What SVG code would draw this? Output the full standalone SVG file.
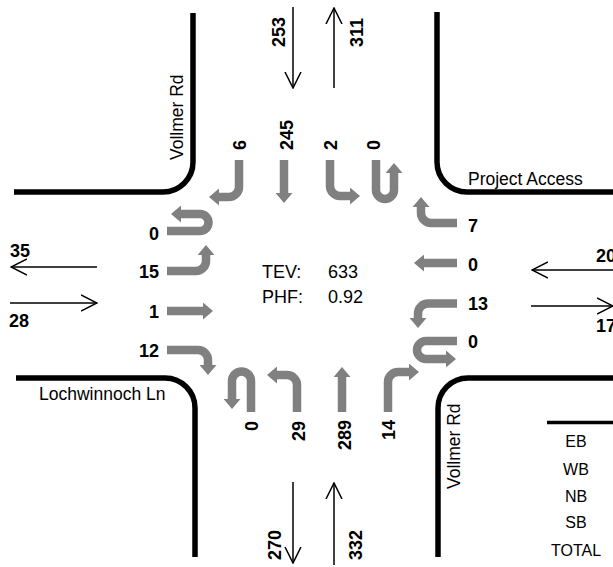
<svg xmlns="http://www.w3.org/2000/svg" width="613" height="567" viewBox="0 0 613 567">
<style>
.curb{fill:none;stroke:#000;stroke-width:5.5}
.mv{fill:none;stroke:#808080;stroke-width:8.5;marker-end:url(#gh)}
.vol{fill:none;stroke:#000;stroke-width:1.5;marker-end:url(#bh)}
text{font-family:"Liberation Sans",Arial,sans-serif;fill:#000}
.n{font-size:18px;font-weight:bold}
.st{font-size:17.5px}
.c{font-size:18px}
.t{font-size:16px;text-anchor:middle}
</style>
<defs>
<marker id="gh" markerUnits="userSpaceOnUse" viewBox="0 0 10 17" refX="0" refY="8.5" markerWidth="10" markerHeight="17" orient="auto"><path d="M0,0 L10,8.5 L0,17 Z" fill="#808080"/></marker>
<marker id="bh" markerUnits="userSpaceOnUse" viewBox="0 0 17 18" refX="16" refY="9" markerWidth="17" markerHeight="18" orient="auto"><path d="M0,1 L16,9 L0,17" fill="none" stroke="#000" stroke-width="1.5"/></marker>
</defs>
<g id="curbs">
<path class="curb" d="M193,13 V162 A30,30 0 0 1 163,192 H14"/>
<path class="curb" d="M437,12 V162 A30,30 0 0 0 467,192 H613"/>
<path class="curb" d="M16,378 H165 A30,30 0 0 1 195,408 V557"/>
<path class="curb" d="M613,378 H468 A30,30 0 0 0 438,408 V557"/>
</g>
<g id="street-names" class="st">
<text transform="translate(183,160) rotate(-90)">Vollmer Rd</text>
<text transform="translate(460,489) rotate(-90)">Vollmer Rd</text>
<text x="468" y="185">Project Access</text>
<text x="39" y="400">Lochwinnoch Ln</text>
</g>
<g id="connectors">
<g id="sb-movements">
<path class="mv" d="M239,160 V187 A10,10 0 0 1 229,197 H219"/>
<path class="mv" d="M284,160 V193"/>
<path class="mv" d="M330,160 V186 A10,10 0 0 0 340,196 H350"/>
<path class="mv" d="M376,160 V190 A9,9 0 0 0 394,190 V173"/>
</g>
<g id="wb-movements">
<path class="mv" d="M457,223 H431 A10,10 0 0 1 421,213 V207"/>
<path class="mv" d="M457,263 H424"/>
<path class="mv" d="M457,303.5 H428 A10,10 0 0 0 418,313.5 V318"/>
<path class="mv" d="M457,341 H426 A9,9 0 0 0 426,359 H446"/>
</g>
<g id="eb-movements">
<path class="mv" d="M167,231 H200 A8.5,8.5 0 0 0 200,214 H181"/>
<path class="mv" d="M167,271 H196 A10,10 0 0 0 206,261 V255"/>
<path class="mv" d="M167,311 H203"/>
<path class="mv" d="M167,350 H198 A10,10 0 0 1 208,360 V365"/>
</g>
<g id="nb-movements">
<path class="mv" d="M251,412 V381 A9.5,9.5 0 0 0 232,381 V399"/>
<path class="mv" d="M297,412 V385 A10,10 0 0 0 287,375 H277"/>
<path class="mv" d="M342,412 V377"/>
<path class="mv" d="M388,412 V382 A10,10 0 0 1 398,372 H409"/>
</g>
<g id="link-volumes">
<path class="vol" d="M293,7 V88"/>
<path class="vol" d="M334,88 V8"/>
<path class="vol" d="M293,482 V563"/>
<path class="vol" d="M334,565 V483"/>
<path class="vol" d="M97,267 H11"/>
<path class="vol" d="M10,303 H97"/>
<path class="vol" d="M613,270 H532"/>
<path class="vol" d="M531,306 H613"/>
</g>
</g>
<g id="sb-labels" class="n">
<text transform="translate(246,150) rotate(-90)">6</text>
<text transform="translate(293,150) rotate(-90)">245</text>
<text transform="translate(337,150) rotate(-90)">2</text>
<text transform="translate(380,150) rotate(-90)">0</text>
<text transform="translate(285,47) rotate(-90)">253</text>
<text transform="translate(363,47) rotate(-90)">311</text>
</g>
<g id="nb-labels" class="n" text-anchor="end">
<text transform="translate(258,421) rotate(-90)">0</text>
<text transform="translate(305,421) rotate(-90)">29</text>
<text transform="translate(351,420) rotate(-90)">289</text>
<text transform="translate(395,420) rotate(-90)">14</text>
</g>
<g id="nb-link-labels" class="n">
<text transform="translate(281,560) rotate(-90)">270</text>
<text transform="translate(362,560) rotate(-90)">332</text>
</g>
<g id="eb-labels" class="n" text-anchor="end">
<text x="159" y="240">0</text>
<text x="159" y="278">15</text>
<text x="159" y="318">1</text>
<text x="159" y="357">12</text>
</g>
<g id="wb-labels" class="n">
<text x="468" y="232">7</text>
<text x="468" y="271">0</text>
<text x="468" y="310">13</text>
<text x="468" y="348">0</text>
</g>
<g id="link-labels" class="n">
<text x="10" y="257">35</text>
<text x="9" y="327">28</text>
<text x="596" y="262">20</text>
<text x="596" y="332">17</text>
</g>
<g id="summary" class="c">
<text x="262" y="278">TEV:</text>
<text x="328" y="278">633</text>
<text x="262" y="303">PHF:</text>
<text x="328" y="303">0.92</text>
</g>
<g id="table">
<path d="M547,422.5 H613" stroke="#000" stroke-width="3.5"/>
<g class="t">
<text x="576" y="447">EB</text>
<text x="576" y="475">WB</text>
<text x="576" y="502">NB</text>
<text x="576" y="528">SB</text>
<text x="576" y="556">TOTAL</text>
</g>
</g>
</svg>
